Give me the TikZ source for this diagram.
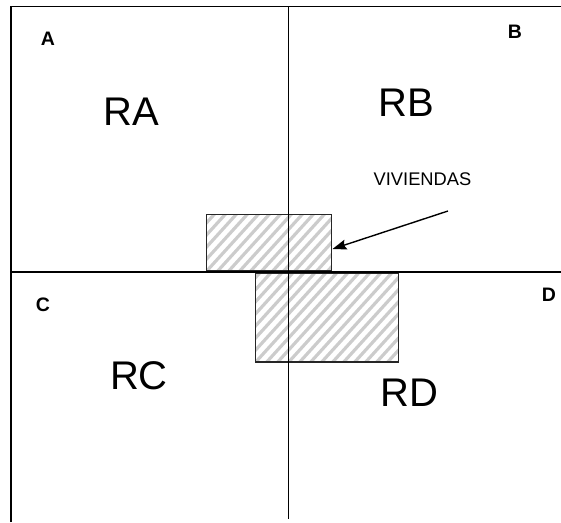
\documentclass[tikz,border=0pt]{standalone}
\usepackage{fontspec}
\setmainfont{Liberation Sans}
\usetikzlibrary{arrows.meta}
\tikzset{
  frameline/.style={line width=1.6pt, black},
  hatchbox/.style={draw=black!85, line width=1.3pt, inner sep=0pt,
    path picture={
      \foreach \i in {-220,-209,...,220}
        \draw[gray!40, line width=3.2pt]
          ([xshift=\i pt]path picture bounding box.south west) -- ++(200,-220);
    }},
  cornerlabel/.style={font=\bfseries\fontsize{19.5}{22}\selectfont, inner sep=0pt},
  regionlabel/.style={font=\fontsize{40}{44}\selectfont, inner sep=0pt},
  notelabel/.style={font=\fontsize{18.3}{20}\selectfont, inner sep=0pt},
  pointer/.style={line width=1.4pt, -{Stealth[length=14pt,width=10pt,inset=2pt]}}
}
\begin{document}
\begin{tikzpicture}[x=1pt,y=-1pt]
\useasboundingbox (0,0) rectangle (561,522);
% hatched boxes
\node[hatchbox, minimum width=125pt, minimum height=56.7pt] (small) at (269.2,242.7) {};
\node[hatchbox, minimum width=142.6pt, minimum height=88.7pt] (big) at (327,317.7) {};
% frame lines
\coordinate (tl) at (11,6.5);
\coordinate (tr) at (561,6.5);
\coordinate (bl) at (11,522);
\coordinate (vt) at (288.5,6.5);
\coordinate (vb) at (288.5,519);
\coordinate (hl) at (11,272);
\coordinate (hr) at (561,272);
\draw[frameline] (bl) -- (tl) -- (tr);
\draw[frameline] (vt) -- (vb);
\draw[frameline] (hl) -- (hr);
% labels
\node[cornerlabel] (A) at (48,39) {A};
\node[cornerlabel] (B) at (515,32) {B};
\node[cornerlabel] (C) at (43,305) {C};
\node[cornerlabel] (D) at (549,295) {D};
\node[regionlabel] (RA) at (131.5,112) {RA};
\node[regionlabel] (RB) at (406,102.5) {RB};
\node[regionlabel] (RC) at (139,376) {RC};
\node[regionlabel] (RD) at (409.5,392.5) {RD};
\node[notelabel] (viv) at (422.5,179.5) {VIVIENDAS};
% arrow
\coordinate (astart) at (448,211);
\coordinate (atip) at (332.5,249);
\draw[pointer] (astart) -- (atip);
\end{tikzpicture}
\end{document}
